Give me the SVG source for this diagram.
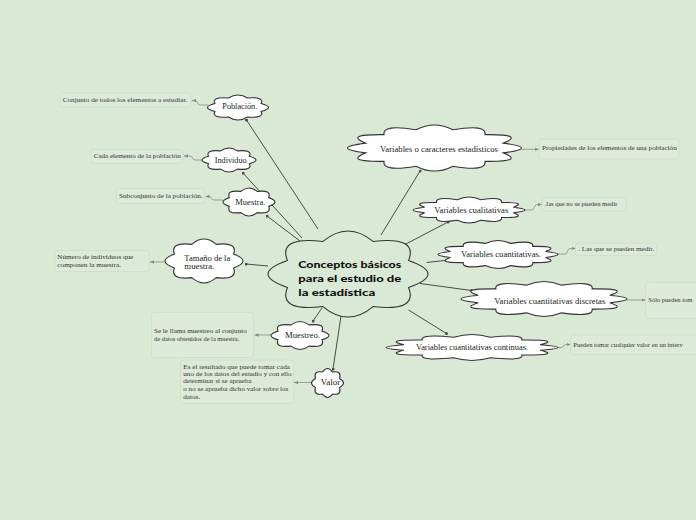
<svg xmlns="http://www.w3.org/2000/svg" width="696" height="520" viewBox="0 0 696 520">
<style>
.cl{fill:#ffffff;stroke:#333333;stroke-width:1.1}
.cc{fill:#dae8d6;stroke:#333333;stroke-width:1.1}
.cp{vector-effect:non-scaling-stroke}
.ct{font-family:"Liberation Serif","DejaVu Serif",serif;font-size:9px;fill:#222222}
.ct2{font-family:"Liberation Serif","DejaVu Serif",serif;font-size:8px;fill:#222222}
.mt{font-family:Lato,"Liberation Sans",sans-serif;font-weight:900;font-size:10px;fill:#111111}
.nt{font-family:"Liberation Serif","DejaVu Serif",serif;font-size:6.5px;fill:#333333}
.nb{fill:#dde9d9;stroke:#cedcca;stroke-width:0.8}
.mc{fill:none;stroke:#4a4a4a;stroke-width:1}
.nc{fill:none;stroke:#8a8a8a;stroke-width:0.8}
</style>
<defs>
<path id="c8" class="cp" vector-effect="non-scaling-stroke" d="M0.7576,-0.3138 Q1.2424,0 0.7576,0.3138 Q0.8785,0.8785 0.3138,0.7576 Q0,1.2424 -0.3138,0.7576 Q-0.8785,0.8785 -0.7576,0.3138 Q-1.2424,0 -0.7576,-0.3138 Q-0.8785,-0.8785 -0.3138,-0.7576 Q0,-1.2424 0.3138,-0.7576 Q0.8785,-0.8785 0.7576,-0.3138Z"/>
<path id="c12" class="cp" vector-effect="non-scaling-stroke" d="M0.7921,-0.2122 Q1.2079,0 0.7921,0.2122 Q1.0461,0.604 0.5798,0.5798 Q0.604,1.0461 0.2122,0.7921 Q0,1.2079 -0.2122,0.7921 Q-0.604,1.0461 -0.5798,0.5798 Q-1.0461,0.604 -0.7921,0.2122 Q-1.2079,0 -0.7921,-0.2122 Q-1.0461,-0.604 -0.5798,-0.5798 Q-0.604,-1.0461 -0.2122,-0.7921 Q0,-1.2079 0.2122,-0.7921 Q0.604,-1.0461 0.5798,-0.5798 Q1.0461,-0.604 0.7921,-0.2122Z"/>
<marker id="dot" viewBox="0 0 6 6" refX="3" refY="3" markerWidth="3" markerHeight="3" markerUnits="userSpaceOnUse"><circle cx="3" cy="3" r="3" fill="#4a4a4a"/></marker>
<marker id="arr" viewBox="0 0 6 6" refX="6" refY="3" markerWidth="4" markerHeight="4" markerUnits="userSpaceOnUse" orient="auto"><path d="M0,0.5 L6,3 L0,5.5Z" fill="#8a8a8a"/></marker>
</defs>
<rect x="0" y="0" width="696" height="520" fill="#dae8d6"/>

<g id="connectors">
<path class="mc" marker-end="url(#dot)" d="M318,229 L246.5,120"/>
<path class="mc" marker-end="url(#dot)" d="M302,238 L243,173"/>
<path class="mc" marker-end="url(#dot)" d="M300,241 L267,216"/>
<path class="mc" marker-end="url(#dot)" d="M268,266 L246,264"/>
<path class="mc" marker-end="url(#dot)" d="M322,308 L313,321"/>
<path class="mc" marker-end="url(#dot)" d="M341,316 L333,369"/>
<path class="mc" marker-end="url(#dot)" d="M381,235 L420,171"/>
<path class="mc" marker-end="url(#dot)" d="M402,246 L448,222"/>
<path class="mc" marker-end="url(#dot)" d="M426.5,262.5 L449,260"/>
<path class="mc" marker-end="url(#dot)" d="M420,283.5 L471.5,290.5"/>
<path class="mc" marker-end="url(#dot)" d="M408.5,310 L446.5,333.5"/>

<path class="nc" marker-end="url(#arr)" d="M208,105 L200,105 C197,105 198,100.5 195,100.5 L192,100.5"/>
<path class="nc" marker-end="url(#arr)" d="M202.5,160 L195,160 C192,160 193,156 190,156 L184,156"/>
<path class="nc" marker-end="url(#arr)" d="M223,200 L214,200 C211,200 212,196.5 209,196.5 L205.5,196.5"/>
<path class="nc" marker-end="url(#arr)" d="M166,262 L150,262"/>
<path class="nc" marker-end="url(#arr)" d="M271.5,335 L254.5,335"/>
<path class="nc" marker-end="url(#arr)" d="M312,382.5 L294,382.5"/>
<path class="nc" marker-end="url(#arr)" d="M521.5,149.3 L539,149.3"/>
<path class="nc" marker-end="url(#arr)" d="M524,210 L532,210 C535,210 534,204.5 537,204.5 L542,204.5"/>
<path class="nc" marker-end="url(#arr)" d="M557,254 L565,254 C568,254 567,248.5 570,248.5 L575.5,248.5"/>
<path class="nc" marker-end="url(#arr)" d="M627,300 L645.5,300"/>
<path class="nc" marker-end="url(#arr)" d="M552,347.5 L561,347.5 C564,347.5 563,344.5 566,344.5 L570.5,344.5"/>
</g>

<g id="n-center">
<use href="#c8" class="cc" transform="translate(348,274) scale(80,43)"/>
<text class="mt" x="298.3" y="268" textLength="103" lengthAdjust="spacingAndGlyphs">Conceptos básicos</text>
<text class="mt" x="298.3" y="282" textLength="103" lengthAdjust="spacingAndGlyphs">para el estudio de</text>
<text class="mt" x="298.3" y="295.5" textLength="77" lengthAdjust="spacingAndGlyphs">la estadística</text>
</g>

<g id="n-poblacion">
<use href="#c8" class="cl" transform="translate(238,107.5) scale(30.5,12.5)"/>
<text class="ct" x="222.3" y="108.5" textLength="35" lengthAdjust="spacingAndGlyphs">Población.</text>
</g>
<g id="note-poblacion">
<rect class="nb" x="60" y="93" width="131" height="14" rx="3"/>
<text class="nt" x="62.7" y="101.5" textLength="124.5" lengthAdjust="spacingAndGlyphs">Conjunto de todos los elementos a estudiar.</text>
</g>

<g id="n-individuo">
<use href="#c8" class="cl" transform="translate(229,160) scale(27,12)"/>
<text class="ct" x="214.7" y="163.3" textLength="32" lengthAdjust="spacingAndGlyphs">Individuo</text>
</g>
<g id="note-individuo">
<rect class="nb" x="91" y="149.5" width="92" height="14" rx="3"/>
<text class="nt" x="93.7" y="157.5" textLength="87" lengthAdjust="spacingAndGlyphs">Cada elemento de la población</text>
</g>

<g id="n-muestra">
<use href="#c8" class="cl" transform="translate(249,202) scale(26,14)"/>
<text class="ct" x="235.3" y="204.5" textLength="30" lengthAdjust="spacingAndGlyphs">Muestra.</text>
</g>
<g id="note-muestra">
<rect class="nb" x="116" y="188.5" width="89" height="15" rx="3"/>
<text class="nt" x="119" y="197.5" textLength="83.7" lengthAdjust="spacingAndGlyphs">Subconjunto de la población.</text>
</g>

<g id="n-tamano">
<use href="#c8" class="cl" transform="translate(204,261) scale(39,22)"/>
<text class="ct2" x="184.3" y="260.5" textLength="46" lengthAdjust="spacingAndGlyphs">Tamaño de la</text>
<text class="ct2" x="184.3" y="269" textLength="30" lengthAdjust="spacingAndGlyphs">muestra.</text>
</g>
<g id="note-tamano">
<rect class="nb" x="55" y="250.5" width="94" height="21" rx="3"/>
<text class="nt" x="57.3" y="259" textLength="76" lengthAdjust="spacingAndGlyphs">Número de individuos que</text>
<text class="nt" x="57.3" y="266.5" textLength="63.7" lengthAdjust="spacingAndGlyphs">componen la muestra.</text>
</g>

<g id="n-muestreo">
<use href="#c8" class="cl" transform="translate(300,335.5) scale(29,14)"/>
<text class="ct" x="285" y="337.8" textLength="35" lengthAdjust="spacingAndGlyphs">Muestreo.</text>
</g>
<g id="note-muestreo">
<rect class="nb" x="151.5" y="312.5" width="102" height="45" rx="3"/>
<text class="nt" x="154" y="333.3" textLength="92.7" lengthAdjust="spacingAndGlyphs">Se le llama muestreo al conjunto</text>
<text class="nt" x="154" y="341" textLength="85.3" lengthAdjust="spacingAndGlyphs">de datos obtenidos de la muestra.</text>
</g>

<g id="n-valor">
<use href="#c8" class="cl" transform="translate(327.5,383) scale(16,14.5)"/>
<text class="ct" x="320.7" y="385.3" textLength="19.5" lengthAdjust="spacingAndGlyphs">Valor</text>
</g>
<g id="note-valor">
<rect class="nb" x="180.5" y="360" width="113" height="43.5" rx="3"/>
<text class="nt" x="183.3" y="368.5" textLength="106.7" lengthAdjust="spacingAndGlyphs">Es el resultado que puede tomar cada</text>
<text class="nt" x="183.3" y="376" textLength="108.3" lengthAdjust="spacingAndGlyphs">uno de los datos del estudio y con ello</text>
<text class="nt" x="183.3" y="383" textLength="68.3" lengthAdjust="spacingAndGlyphs">determinar si se aprueba</text>
<text class="nt" x="183.3" y="391" textLength="105" lengthAdjust="spacingAndGlyphs">o no se aprueba dicho valor sobre los</text>
<text class="nt" x="183.3" y="398.5" textLength="16.7" lengthAdjust="spacingAndGlyphs">datos.</text>
</g>

<g id="n-variables">
<use href="#c12" class="cl" transform="translate(434.5,148) scale(87,23)"/>
<text class="ct" x="380" y="152.3" textLength="118" lengthAdjust="spacingAndGlyphs">Variables o caracteres estadísticos</text>
</g>
<g id="note-variables">
<rect class="nb" x="539" y="139" width="140" height="20" rx="3"/>
<text class="nt" x="542" y="150.3" textLength="134.7" lengthAdjust="spacingAndGlyphs">Propiedades de los elementos de una población</text>
</g>

<g id="n-cualitativas">
<use href="#c12" class="cl" transform="translate(469,210) scale(56,13)"/>
<text class="ct" x="434.3" y="213" textLength="74" lengthAdjust="spacingAndGlyphs">Variables cualitativas</text>
</g>
<g id="note-cualitativas">
<rect class="nb" x="542" y="197.5" width="84" height="13.5" rx="3"/>
<text class="nt" x="544.7" y="206" textLength="72.7" lengthAdjust="spacingAndGlyphs">.las que no se pueden medir</text>
</g>

<g id="n-cuantitativas">
<use href="#c12" class="cl" transform="translate(498,254.5) scale(60,14)"/>
<text class="ct" x="461" y="257" textLength="80" lengthAdjust="spacingAndGlyphs">Variables cuantitativas.</text>
</g>
<g id="note-cuantitativas">
<rect class="nb" x="575.5" y="243" width="81" height="12.5" rx="3"/>
<text class="nt" x="578.3" y="251" textLength="75.7" lengthAdjust="spacingAndGlyphs">. Las que se pueden medir.</text>
</g>

<g id="n-discretas">
<use href="#c12" class="cl" transform="translate(544,299) scale(83,17.5)"/>
<text class="ct" x="494.3" y="303.5" textLength="111" lengthAdjust="spacingAndGlyphs">Variables cuantitativas discretas</text>
</g>
<g id="note-discretas">
<rect class="nb" x="645.5" y="282.5" width="60" height="36" rx="3"/>
<text class="nt" x="648.3" y="302">Sólo pueden tom</text>
</g>

<g id="n-continuas">
<use href="#c12" class="cl" transform="translate(472,347.5) scale(86,13)"/>
<text class="ct" x="416" y="350" textLength="112" lengthAdjust="spacingAndGlyphs">Variables cuantitativas continuas.</text>
</g>
<g id="note-continuas">
<rect class="nb" x="570.5" y="335" width="130" height="19.5" rx="3"/>
<text class="nt" x="573.3" y="347">Pueden tomar cualquier valor en un interv</text>
</g>
</svg>
